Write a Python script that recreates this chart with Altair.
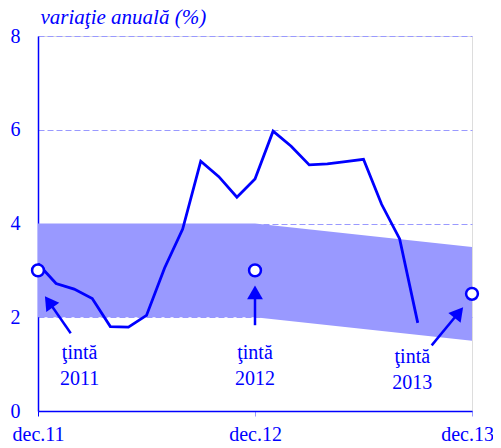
import altair as alt
import pandas as pd

# months since dec.11 (0 = dec.11, 12 = dec.12, 24 = dec.13)
months = list(range(0, 22))
inflation = [3.14, 2.72, 2.60, 2.40, 1.80, 1.79, 2.04, 3.05, 3.88, 5.33, 5.00, 4.56,
             4.95, 5.97, 5.65, 5.25, 5.27, 5.32, 5.37, 4.41, 3.67, 1.88]

band_x = [0, 12, 24]
band_low = [2.0, 2.0, 1.5]
band_high = [4.0, 4.0, 3.5]

target_x = [0, 12, 24]
target_y = [3.0, 3.0, 2.5]

tick_values = [0, 12, 24]
tick_labels = ["dec.11", "dec.12", "dec.13"]

# annotations
note_word = ["ţintă", "ţintă", "ţintă"]
note_year = ["2011", "2012", "2013"]
note_x = [2.3, 12.0, 20.7]
note_y1 = [1.10, 1.10, 1.02]
note_y2 = [0.55, 0.55, 0.47]

arrow_tail_x = [1.81, 12.0, 21.77]
arrow_tail_y = [1.66, 1.83, 1.40]
arrow_head_x = [0.60, 12.0, 23.27]
arrow_head_y = [2.33, 2.53, 2.10]
arrow_angle = [325, 0, 39]

BLUE = "#0000ff"
LIGHT = "#9999ff"
FONT = "Liberation Serif"

label_expr = " : ".join(
    f"datum.value == {v} ? '{t}'" for v, t in zip(tick_values[:-1], tick_labels[:-1])
) + f" : '{tick_labels[-1]}'"

xs = alt.Scale(domain=[0, 24], nice=False, zero=False)
ys = alt.Scale(domain=[0, 8], nice=False)

x_axis = alt.Axis(values=tick_values, labelExpr=label_expr, grid=False, title=None,
                  domainColor=BLUE, domainWidth=1.5,
                  tickColor={"condition": {"test": "datum.value == 0", "value": BLUE}, "value": LIGHT},
                  tickSize=5,
                  labelFontSize=20, labelFont=FONT, labelColor=BLUE, labelPadding=8,
                  labelFlush=False,
                  labelOffset={"condition": {"test": "datum.value == 24", "value": -5}, "value": 0})
y_axis = alt.Axis(values=[0, 2, 4, 6, 8], grid=True, gridColor=LIGHT, gridDash=[6, 3],
                  gridWidth=1, domainColor=BLUE, domainWidth=1.5, tickSize=0,
                  labelFontSize=20, labelFont=FONT, labelColor=BLUE, labelPadding=18,
                  title="variaţie anuală (%)", titleAngle=0, titleAlign="left",
                  titleBaseline="alphabetic", titleX=2, titleY=-13, titleFont=FONT,
                  titleFontStyle="italic", titleFontWeight="normal", titleFontSize=21,
                  titleColor=BLUE)

band_df = pd.DataFrame({"m": band_x, "lo": band_low, "hi": band_high})
line_df = pd.DataFrame({"m": months, "v": inflation})
tgt_df = pd.DataFrame({"m": target_x, "v": target_y})
note_df = pd.DataFrame({"m": note_x, "y1": note_y1, "y2": note_y2,
                        "w": note_word, "yr": note_year})
arr_df = pd.DataFrame({"tx": arrow_tail_x, "ty": arrow_tail_y,
                       "hx": arrow_head_x, "hy": arrow_head_y, "a": arrow_angle})

band = alt.Chart(band_df).mark_area(color=LIGHT, opacity=1).encode(
    x=alt.X("m:Q", scale=xs, axis=x_axis),
    y=alt.Y("hi:Q", scale=ys, axis=y_axis),
    y2="lo:Q",
)

line = alt.Chart(line_df).mark_line(color=BLUE, strokeWidth=2.8).encode(
    x=alt.X("m:Q", scale=xs), y=alt.Y("v:Q", scale=ys)
)

arrow_lines = alt.Chart(arr_df).mark_rule(color=BLUE, strokeWidth=2.5).encode(
    x=alt.X("tx:Q", scale=xs), y=alt.Y("ty:Q", scale=ys), x2="hx:Q", y2="hy:Q"
)
arrow_heads = alt.Chart(arr_df).mark_point(
    shape="triangle-up", filled=True, color=BLUE, size=250, opacity=1
).encode(
    x=alt.X("hx:Q", scale=xs), y=alt.Y("hy:Q", scale=ys), angle=alt.Angle("a:Q", scale=None)
)

targets = alt.Chart(tgt_df).mark_point(
    shape="circle", filled=True, fill="white", stroke=BLUE, strokeWidth=2.5, size=140, opacity=1
).encode(x=alt.X("m:Q", scale=xs), y=alt.Y("v:Q", scale=ys))

t1 = alt.Chart(note_df).mark_text(font=FONT, fontSize=20, color=BLUE,
                                  baseline="alphabetic", align="center").encode(
    x=alt.X("m:Q", scale=xs), y=alt.Y("y1:Q", scale=ys), text="w:N")
t2 = alt.Chart(note_df).mark_text(font=FONT, fontSize=20, color=BLUE,
                                  baseline="alphabetic", align="center").encode(
    x=alt.X("m:Q", scale=xs), y=alt.Y("y2:Q", scale=ys), text="yr:N")

chart = alt.layer(band, line, arrow_lines, arrow_heads, targets, t1, t2).properties(
    width=434, height=375,
    autosize=alt.AutoSizeParams(type="none"),
    padding={"left": 30, "top": 28, "right": 21, "bottom": 37},
).configure_view(stroke=None).configure(background="white")

chart.save("out.html", embed_options={"renderer": "svg", "actions": False})
